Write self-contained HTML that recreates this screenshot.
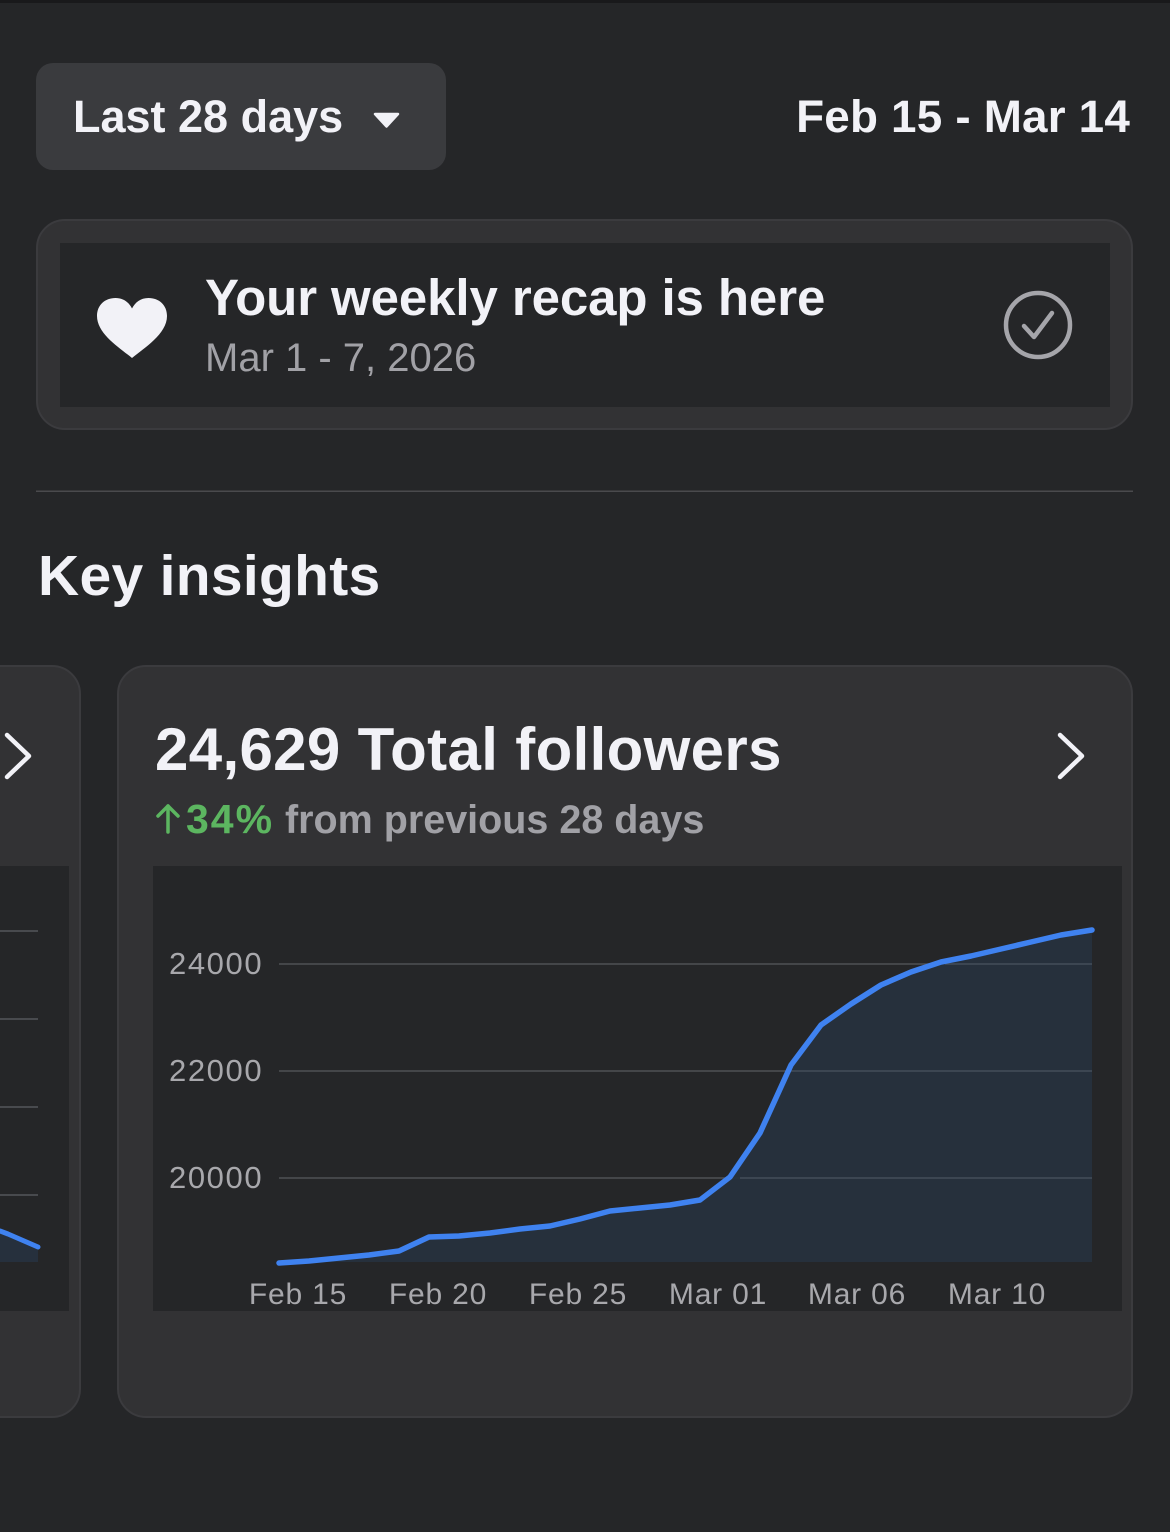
<!DOCTYPE html>
<html>
<head>
<meta charset="utf-8">
<style>
  html,body{margin:0;padding:0;background:#252628;}
  body{width:1170px;height:1532px;overflow:hidden;}
  svg{display:block;}
  text{font-family:"Liberation Sans", sans-serif;}
</style>
</head>
<body>
<svg width="1170" height="1532" viewBox="0 0 1170 1532" xmlns="http://www.w3.org/2000/svg">
  <rect x="0" y="0" width="1170" height="1532" fill="#252628"/>
  <rect x="0" y="0" width="1170" height="3" fill="#19191b"/>

  <!-- Dropdown -->
  <rect x="36" y="63" width="410" height="107" rx="17" fill="#3a3b3e"/>
  <text x="73" y="132" font-size="45" font-weight="700" fill="#f2f2f7">Last 28 days</text>
  <path d="M375 114 L398 114 L386.5 126.5 Z" fill="#f2f2f7" stroke="#f2f2f7" stroke-width="2.5" stroke-linejoin="round"/>

  <text x="1130" y="132" font-size="45.8" font-weight="700" fill="#f2f2f7" text-anchor="end" letter-spacing="0.2">Feb 15 - Mar 14</text>

  <!-- Recap card -->
  <rect x="37" y="220" width="1095" height="209" rx="28" fill="#323234" stroke="#3b3b3e" stroke-width="2"/>
  <rect x="60" y="243" width="1050" height="164" fill="#252628"/>
  <path d="M132 358 C120 348 97 334 97 316 C97 305 105 298 115.5 298 C123.5 298 129 302.5 132 308.5 C135 302.5 140.5 298 148.5 298 C159 298 167 305 167 316 C167 334 144 348 132 358 Z" fill="#f2f2f7"/>
  <text x="205" y="315" font-size="51" font-weight="700" fill="#f2f2f7" letter-spacing="-0.1">Your weekly recap is here</text>
  <text x="205" y="371" font-size="40" fill="#a1a1a6">Mar 1 - 7, 2026</text>
  <circle cx="1038" cy="325" r="32" fill="none" stroke="#a5a5aa" stroke-width="4.5"/>
  <polyline points="1024,326 1034,337 1052,313" fill="none" stroke="#a5a5aa" stroke-width="4.5" stroke-linecap="round" stroke-linejoin="round"/>

  <!-- Divider -->
  <rect x="36" y="490.5" width="1097" height="1.5" fill="#4a4a4d"/>

  <text x="38" y="595" font-size="57" font-weight="700" fill="#f2f2f7" letter-spacing="0.3">Key insights</text>

  <!-- Left partial card -->
  <rect x="-40" y="666" width="120" height="751" rx="28" fill="#323234" stroke="#3b3b3e" stroke-width="2"/>
  <polyline points="7,735 29,756 7,777" fill="none" stroke="#f2f2f7" stroke-width="4.5" stroke-linecap="round" stroke-linejoin="round"/>
  <rect x="0" y="866" width="69" height="445" fill="#252628"/>
  <g stroke="#55565a" stroke-width="1.5">
    <line x1="0" y1="931" x2="38" y2="931"/>
    <line x1="0" y1="1019" x2="38" y2="1019"/>
    <line x1="0" y1="1107" x2="38" y2="1107"/>
    <line x1="0" y1="1195" x2="38" y2="1195"/>
  </g>
  <polygon points="0,1231 8,1234 38,1247 38,1262 0,1262" fill="#26303d"/>
  <polyline points="0,1231 8,1234 38,1247" fill="none" stroke="#3f82f0" stroke-width="5" stroke-linecap="round" stroke-linejoin="round"/>

  <!-- Main card -->
  <rect x="118" y="666" width="1014" height="751" rx="28" fill="#323234" stroke="#3b3b3e" stroke-width="2"/>
  <text x="155" y="770" font-size="60" font-weight="700" fill="#f2f2f7" letter-spacing="0.35">24,629 Total followers</text>
  <polyline points="1060,735 1082,756 1060,777" fill="none" stroke="#f2f2f7" stroke-width="4.5" stroke-linecap="round" stroke-linejoin="round"/>
  <!-- arrow up -->
  <g stroke="#5cb660" stroke-width="3.5" fill="none" stroke-linecap="round" stroke-linejoin="round">
    <line x1="168" y1="806" x2="168" y2="832"/>
    <polyline points="158,816 168,806 178,816"/>
  </g>
  <text x="186" y="833" font-size="41" font-weight="700" fill="#5cb660" letter-spacing="2">34%</text>
  <text x="285" y="833" font-size="39.5" font-weight="700" fill="#a1a1a6">from previous 28 days</text>

  <rect x="153" y="866" width="969" height="445" fill="#252628"/>

  <!-- grid -->
  <g stroke="#4f5054" stroke-width="1.5">
    <line x1="279" y1="964" x2="1092" y2="964"/>
    <line x1="279" y1="1071" x2="1092" y2="1071"/>
    <line x1="279" y1="1178" x2="1092" y2="1178"/>
  </g>
  <g font-size="31" fill="#a8a8ac" letter-spacing="1.6">
    <text x="169" y="974">24000</text>
    <text x="169" y="1081">22000</text>
    <text x="169" y="1188">20000</text>
  </g>

  <polygon fill="#26303d" fill-opacity="0.95" points="279,1263 309,1261 339,1258 369,1255 399,1251 429,1237 459,1236 490,1233 520,1229 550,1226 580,1219 610,1211 640,1208 670,1205 700,1200 730,1177 760,1133 791,1065 821,1025 851,1004 881,985 911,972 941,962 971,956 1001,949 1031,942 1061,935 1092,930 1092,1262 279,1262"/>
  <g stroke="#55606e" stroke-width="1.5" opacity="0.6">
    <line x1="740" y1="1178" x2="1092" y2="1178"/>
    <line x1="790" y1="1071" x2="1092" y2="1071"/>
    <line x1="945" y1="964" x2="1092" y2="964"/>
  </g>
  <polyline fill="none" stroke="#3f82f0" stroke-width="5.5" stroke-linecap="round" stroke-linejoin="round" points="279,1263 309,1261 339,1258 369,1255 399,1251 429,1237 459,1236 490,1233 520,1229 550,1226 580,1219 610,1211 640,1208 670,1205 700,1200 730,1177 760,1133 791,1065 821,1025 851,1004 881,985 911,972 941,962 971,956 1001,949 1031,942 1061,935 1092,930"/>

  <g font-size="30" fill="#a8a8ac" text-anchor="middle" letter-spacing="0.8">
    <text x="298" y="1304">Feb 15</text>
    <text x="438" y="1304">Feb 20</text>
    <text x="578" y="1304">Feb 25</text>
    <text x="718" y="1304">Mar 01</text>
    <text x="857" y="1304">Mar 06</text>
    <text x="997" y="1304">Mar 10</text>
  </g>
</svg>
</body>
</html>
